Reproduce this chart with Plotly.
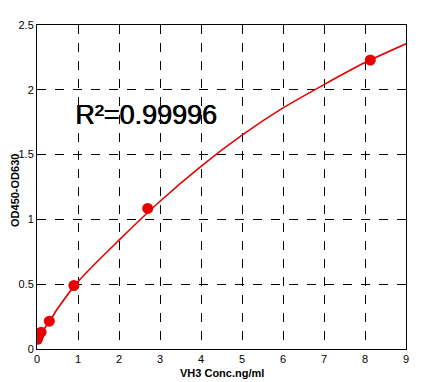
import plotly.graph_objects as go

# Standard points
std_x = [0.011, 0.037, 0.1, 0.3, 0.9, 2.7, 8.13]
std_y = [0.075, 0.10, 0.13, 0.215, 0.49, 1.085, 2.23]

# Fitted curve
curve_x = [0, 0.1, 0.3, 0.5, 1, 2, 3, 4, 5, 6, 7, 8, 9]
curve_y = [0.06, 0.12, 0.21, 0.31, 0.52, 0.84, 1.14, 1.41, 1.65, 1.86, 2.04, 2.21, 2.355]

x_ticks = [0, 1, 2, 3, 4, 5, 6, 7, 8, 9]
y_ticks = [0, 0.5, 1, 1.5, 2, 2.5]
y_tick_text = ["0", "0.5", "1", "1.5", "2", "2.5"]

r2_text = "R²=0.99996"
x_title = "VH3 Conc.ng/ml"
y_title = "OD450-OD630"

RED = "#e60000"

# page body has an 8px margin; figure coordinates = page coordinates - 8
OFF = 8
W, H = 427 - OFF, 382 - OFF
L, R, T, B = 36 - OFF, 406 - OFF, 19 - OFF, 349 - OFF

fig = go.Figure()
fig.add_trace(go.Scatter(x=curve_x, y=curve_y, mode="lines",
                         line=dict(color=RED, width=1.6, shape="spline", smoothing=0.8),
                         showlegend=False, hoverinfo="skip"))
fig.add_trace(go.Scatter(x=std_x, y=std_y, mode="markers",
                         marker=dict(color=RED, size=11, line=dict(width=0)),
                         showlegend=False))

axis_common = dict(showline=True, linecolor="black", linewidth=1, mirror=True,
                   showgrid=True, gridcolor="black", griddash="dash", gridwidth=1,
                   zeroline=False, ticks="",
                   tickfont=dict(family="Liberation Sans, Arial", size=11, color="black"))

fig.update_xaxes(range=[0, 9], tickvals=x_ticks, **axis_common)
fig.update_yaxes(range=[0, 2.5], tickvals=y_ticks, ticktext=y_tick_text, **axis_common)


def px(xp):
    return (xp - 36) / 370


def py(yp):
    return (349 - yp) / 330


fig.add_annotation(xref="paper", yref="paper", x=px(145), y=py(111),
                   text=r2_text,
                   showarrow=False, xanchor="center", yanchor="middle",
                   font=dict(family="Liberation Sans, Arial", size=27, color="black",
                             shadow="0.7px 0px 0px black"))
fig.add_annotation(xref="paper", yref="paper", x=0.5, y=py(373),
                   text="<b>" + x_title + "</b>", showarrow=False,
                   xanchor="center", yanchor="middle",
                   font=dict(family="Liberation Sans, Arial", size=11, color="black"))
fig.add_annotation(xref="paper", yref="paper", x=px(14), y=py(188),
                   text="<b>" + y_title + "</b>", showarrow=False, textangle=-90,
                   xanchor="center", yanchor="middle",
                   font=dict(family="Liberation Sans, Arial", size=11, color="black"))

fig.update_layout(width=W, height=H,
                  margin=dict(l=L, r=W - R, t=T, b=H - B),
                  paper_bgcolor="white", plot_bgcolor="white")

fig.write_html("out.html")
